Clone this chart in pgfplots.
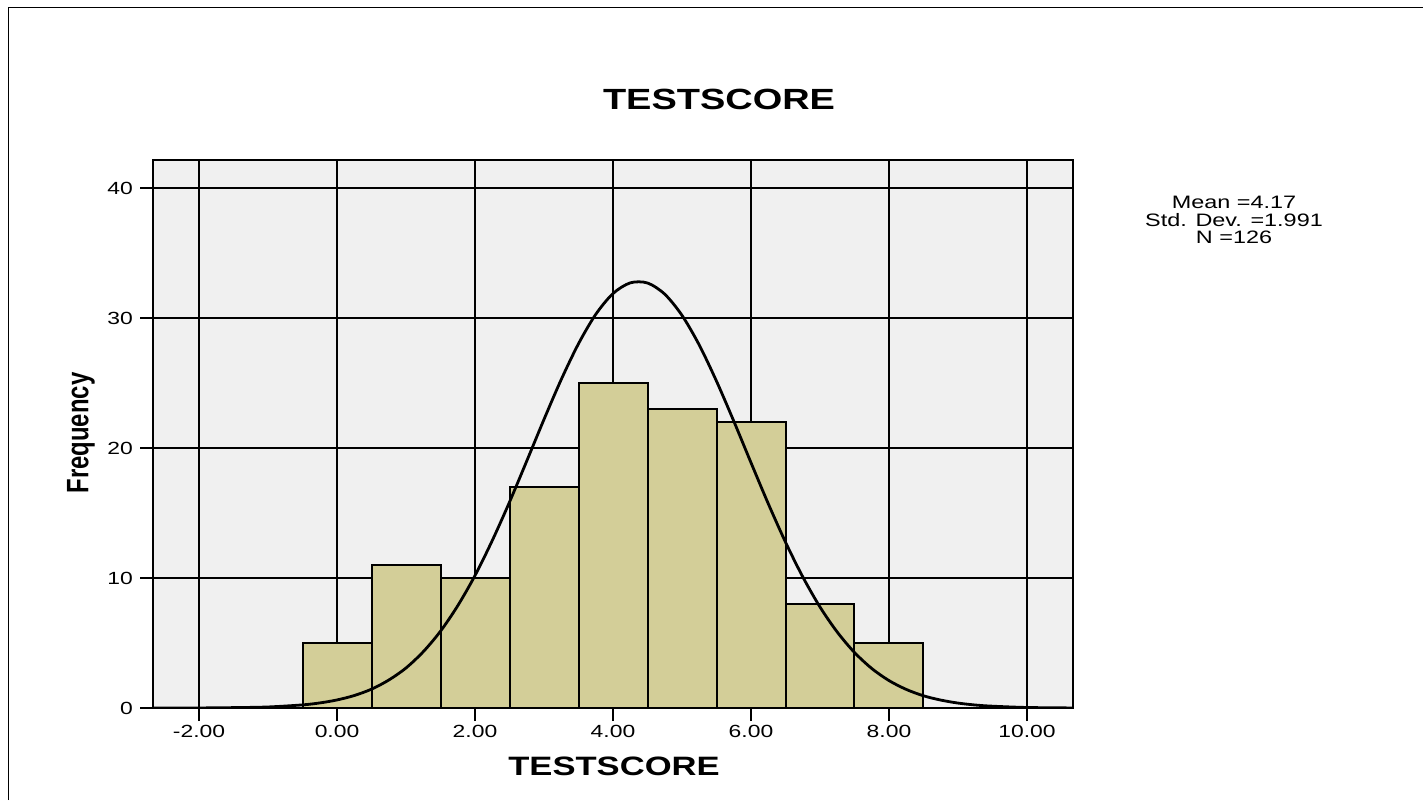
\documentclass[border=0pt]{standalone}
\usepackage{pgfplots}
\pgfplotsset{compat=1.18}
\usepackage{fontspec}
\setmainfont{Liberation Sans}[FakeStretch=1.3]
\newfontfamily\ylabfont{Liberation Sans}[FakeStretch=0.77]
\definecolor{barfill}{RGB}{211,206,152}
\definecolor{plotbg}{RGB}{240,240,240}
\begin{document}
\begin{tikzpicture}
\useasboundingbox (0,0) rectangle (711.5pt,400pt);
\draw[line width=0.75pt] (4.15pt,0) -- (4.15pt,396.25pt) -- (711.5pt,396.25pt);
\begin{axis}[
  at={(76.5pt,46pt)}, anchor=south west,
  scale only axis, width=460pt, height=274pt,
  xmin=-2.667, xmax=10.667, ymin=0, ymax=42.15,
  xtick={-2,0,2,4,6,8,10},
  xticklabels={-2.00,0.00,2.00,4.00,6.00,8.00,10.00},
  ytick={0,10,20,30,40},
  xtick pos=bottom, ytick pos=left,
  /pgf/number format/assume math mode=true,
  tick align=outside,
  major tick length=6.5pt,
  xtick style={line width=1.4pt, black},
  ytick style={line width=1pt, black},
  tick label style={font=\fontsize{8.8}{10}\selectfont},
  xticklabel style={yshift=1.5pt},
  grid=major,
  x grid style={line width=1.3pt, black},
  y grid style={line width=1pt, black},
  axis line style={line width=1pt, black},
  axis background/.style={fill=plotbg},
  clip=true,
]
\addplot[ybar interval, fill=barfill, draw=black, line width=1pt] coordinates {
  (-0.5,5) (0.5,11) (1.5,10) (2.5,17) (3.5,25) (4.5,23) (5.5,22) (6.5,8) (7.5,5) (8.5,5)
};
\addplot[smooth, line width=1.4pt, black] coordinates {
  (-2.667,0.0) (-2.0,0.005) (-1.5,0.03) (-1.0,0.08) (-0.5,0.24) (-0.25,0.39)
  (0.0,0.62) (0.25,0.96) (0.5,1.45) (0.75,2.15) (1.0,3.08) (1.25,4.33)
  (1.5,5.91) (1.75,7.87) (2.0,10.19) (2.25,12.88) (2.5,15.84) (2.75,19.00)
  (3.0,22.20) (3.25,25.27) (3.5,28.02) (3.75,30.28) (4.0,31.88) (4.25,32.70)
  (4.5,32.69) (4.75,31.83) (5.0,30.20) (5.25,27.92) (5.5,25.14) (5.75,22.07)
  (6.0,18.87) (6.25,15.72) (6.5,12.76) (6.75,10.09) (7.0,7.77) (7.25,5.84)
  (7.5,4.27) (7.75,3.04) (8.0,2.11) (8.25,1.43) (8.5,0.94) (8.75,0.61)
  (9.0,0.38) (9.25,0.23) (9.5,0.14) (10.0,0.04) (10.667,0.005)
};
\end{axis}
\node[font=\fontsize{14.6}{16}\selectfont\bfseries] at (359.5pt,350.5pt) {TESTSCORE};
\node[font=\fontsize{13.3}{15}\selectfont\bfseries] at (307pt,17pt) {TESTSCORE};
\node[font=\fontsize{15.5}{17}\ylabfont\bfseries, rotate=90] at (40.5pt,183.5pt) {Frequency};
\node[font=\fontsize{9}{8.8}\selectfont, align=center] at (617pt,290pt) {Mean =4.17\\Std. Dev. =1.991\\N =126};
\end{tikzpicture}
\end{document}
